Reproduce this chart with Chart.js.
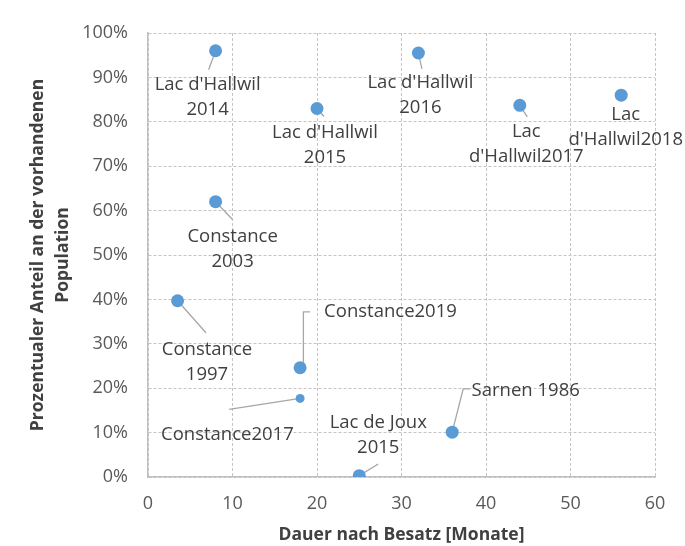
<!DOCTYPE html>
<html>
<head>
<meta charset="utf-8">
<script src="https://cdn.jsdelivr.net/npm/chart.js@4.4.0/dist/chart.umd.min.js"></script>
<style>
  html, body { margin: 0; padding: 0; background: #fff; }
  canvas { display: block; }
</style>
</head>
<body>
<canvas id="besatzChart" width="685" height="546"></canvas>
<script>
// ===== Daten =====
const seeNamen = [
    ["Lac d'Hallwil", "2014"],
    ["Lac d'Hallwil", "2015"],
    ["Lac d'Hallwil", "2016"],
    ["Lac", "d'Hallwil2017"],
    ["Lac", "d'Hallwil2018"],
    ["Constance", "2003"],
    ["Constance", "1997"],
    ["Constance2019"],
    ["Constance2017"],
    ["Sarnen 1986"],
    ["Lac de Joux", "2015"]
];
const dauerMonate = [8, 20, 32, 44, 56, 8, 3.5, 18, 18, 36, 25];
const anteilPopulation = [0.96, 0.83, 0.955, 0.837, 0.86, 0.62, 0.397, 0.246, 0.177, 0.101, 0.003];
const xTicks = [0, 10, 20, 30, 40, 50, 60];
const yTicks = [0, 0.1, 0.2, 0.3, 0.4, 0.5, 0.6, 0.7, 0.8, 0.9, 1.0];

// Lage der Beschriftungen relativ zum Punkt (Pixel)
const labelLage = [
    { dx: -8,   dy: 34,  align: 'center', leader: [[0, 0], [-7, 19]] },
    { dx: 8,    dy: 24,  align: 'center', leader: [[0, 0], [7, 8]] },
    { dx: 2,    dy: 30,  align: 'center', leader: [[0, 0], [3.5, 16]] },
    { dx: 6.5,  dy: 26.5, align: 'center', leader: [[0, 0], [7.5, 11.4]] },
    { dx: 4.5,  dy: 19.3, align: 'center', leader: null },
    { dx: 17,   dy: 35,  align: 'center', leader: [[0, 0], [16.7, 17.6]] },
    { dx: 29.4, dy: 49.3, align: 'center', leader: [[0, 0], [28.4, 32]] },
    { dx: 24,   dy: -56, align: 'left',   leader: [[3.3, -2], [3.3, -56], [10, -56]] },
    { dx: -72.7, dy: 36.7, align: 'center', leader: [[0, 0], [-71, 11]] },
    { dx: 19.4, dy: -41.6, align: 'left', leader: [[0, 0], [11, -43.3], [17.7, -43.3]] },
    { dx: 19,   dy: -53, align: 'center', leader: [[0, 0], [19, -11.7]] }
];

const FONT = '"Open Sans", sans-serif';

// Plugin für Datenbeschriftungen mit Führungslinien
const punktBeschriftung = {
    id: 'punktBeschriftung',
    beforeDatasetsDraw(chart) {
        const ctx = chart.ctx;
        const meta = chart.getDatasetMeta(0);
        ctx.save();
        ctx.strokeStyle = '#a6a6a6';
        ctx.lineWidth = 1.3;
        meta.data.forEach((pt, i) => {
            const lage = labelLage[i];
            if (!lage.leader) return;
            ctx.beginPath();
            lage.leader.forEach(([ox, oy], k) => {
                if (k === 0) ctx.moveTo(pt.x + ox, pt.y + oy);
                else ctx.lineTo(pt.x + ox, pt.y + oy);
            });
            ctx.stroke();
        });
        ctx.restore();
    },
    afterDatasetsDraw(chart) {
        const ctx = chart.ctx;
        const meta = chart.getDatasetMeta(0);
        ctx.save();
        ctx.font = '18.5px ' + FONT;
        ctx.fillStyle = '#404040';
        ctx.textBaseline = 'middle';
        meta.data.forEach((pt, i) => {
            const lage = labelLage[i];
            ctx.textAlign = lage.align;
            seeNamen[i].forEach((zeile, k) => {
                ctx.fillText(zeile, pt.x + lage.dx, pt.y + lage.dy + k * 25);
            });
        });
        ctx.restore();
    }
};

const ctx = document.getElementById('besatzChart').getContext('2d');

new Chart(ctx, {
    type: 'scatter',
    data: {
        datasets: [{
            label: 'Anteil',
            data: dauerMonate.map((x, i) => ({ x: x, y: anteilPopulation[i] })),
            backgroundColor: '#5b9bd5',
            borderWidth: 0,
            pointRadius: c => seeNamen[c.dataIndex][0] === 'Constance2017' ? 4.5 : 6.5,
            pointHoverRadius: 6.5
        }]
    },
    options: {
        responsive: false,
        animation: false,
        layout: {
            padding: { top: 33, right: 30, left: 0, bottom: 0 }
        },
        plugins: {
            legend: { display: false },
            tooltip: { enabled: false }
        },
        scales: {
            x: {
                type: 'linear',
                min: 0,
                max: 60,
                afterBuildTicks: scale => { scale.ticks = xTicks.map(v => ({ value: v })); },
                afterFit: scale => { scale.height = 69; },
                ticks: {
                    color: '#595959',
                    padding: 16,
                    font: { family: FONT, size: 18 }
                },
                grid: {
                    color: '#c4c4c4',
                    lineWidth: 1,
                    drawTicks: false
                },
                border: { display: true, color: '#bfbfbf', width: 1.5, dash: [3, 2] },
                title: {
                    display: true,
                    text: 'Dauer nach Besatz [Monate]',
                    color: '#404040',
                    font: { family: FONT, size: 17.5, weight: 'bold', lineHeight: 1.2 },
                    padding: { top: 0, bottom: 0 }
                }
            },
            y: {
                type: 'linear',
                min: 0,
                max: 1,
                afterBuildTicks: scale => { scale.ticks = yTicks.map(v => ({ value: v })); },
                afterFit: scale => { scale.width = 148; },
                ticks: {
                    color: '#595959',
                    padding: 20,
                    font: { family: FONT, size: 18 },
                    callback: v => Math.round(v * 100) + '%'
                },
                grid: {
                    color: '#c4c4c4',
                    lineWidth: 1,
                    drawTicks: false
                },
                border: { display: true, color: '#bfbfbf', width: 1.5, dash: [3, 2] },
                title: {
                    display: true,
                    text: ['Prozentualer Anteil an der vorhandenen', 'Population'],
                    color: '#404040',
                    font: { family: FONT, size: 17.5, weight: 'bold', lineHeight: '25px' },
                    padding: { top: 26, bottom: 0 }
                }
            }
        }
    },
    plugins: [punktBeschriftung]
});
</script>
</body>
</html>
